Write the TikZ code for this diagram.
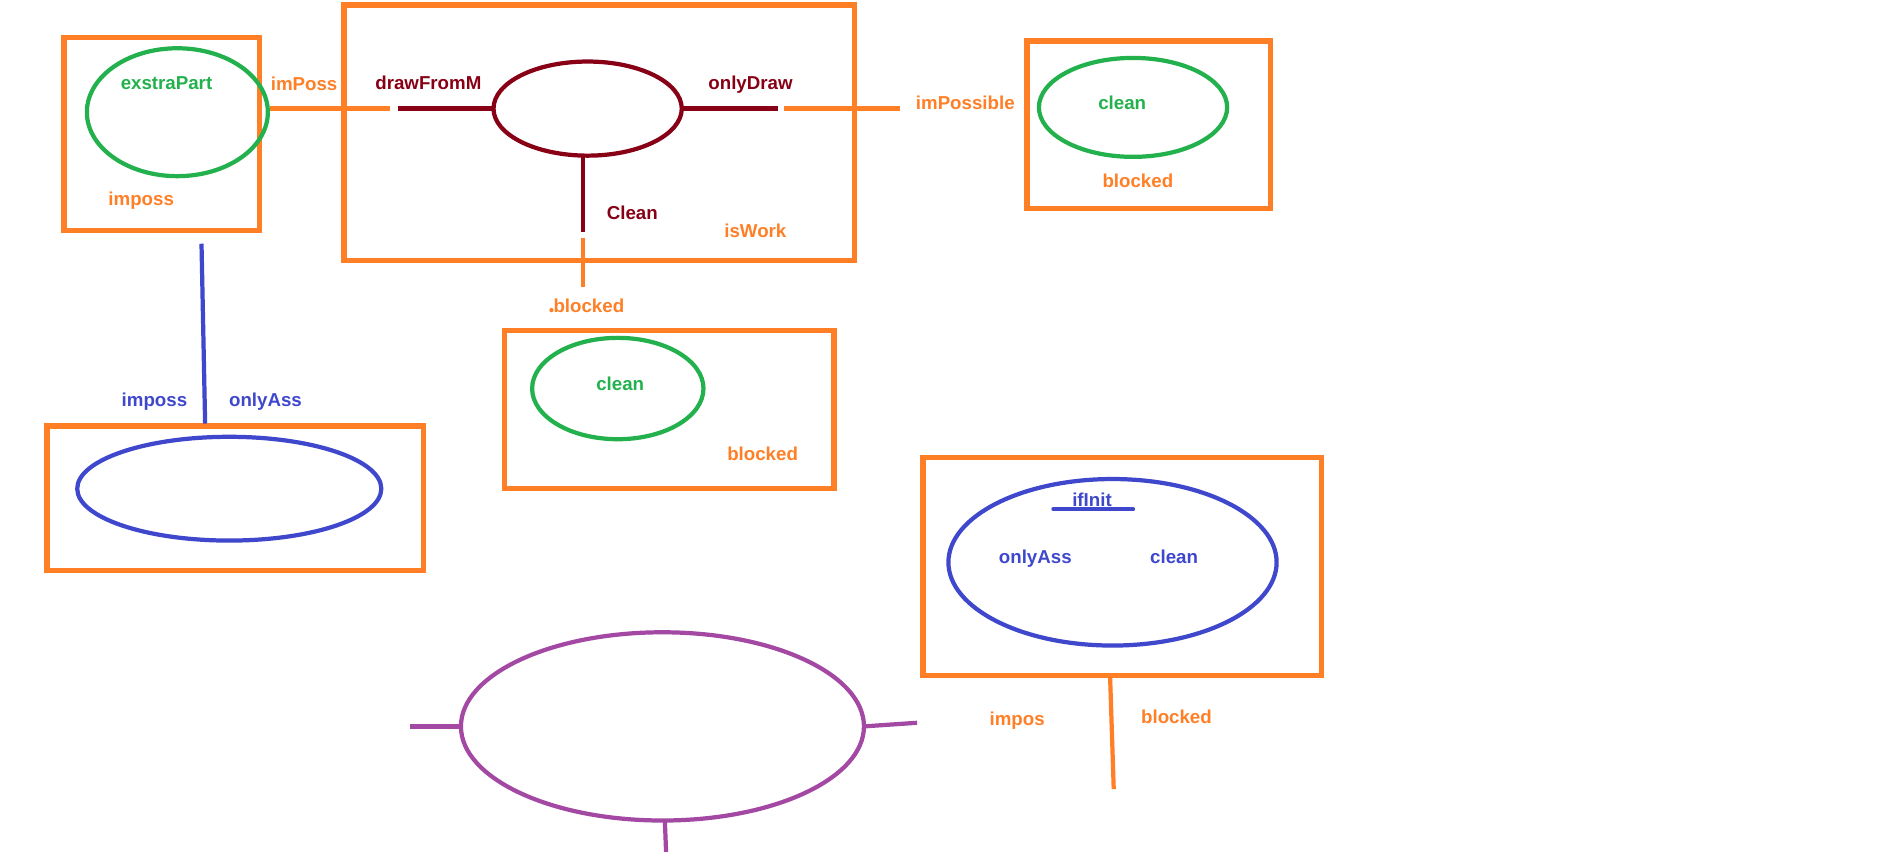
\documentclass[tikz,border=0pt]{standalone}
\usepackage{fontspec}
\setmainfont{Liberation Sans}
\usetikzlibrary{shapes.geometric}
\definecolor{porange}{HTML}{FF7F27}
\definecolor{pgreen}{HTML}{22B14C}
\definecolor{pred}{HTML}{880015}
\definecolor{pblue}{HTML}{3F48CC}
\definecolor{ppurple}{HTML}{A349A4}
\begin{document}
\begin{tikzpicture}[x=1pt,y=-1pt,
  box/.style={draw=porange,line width=4.5pt,rectangle,inner sep=0pt,outer sep=0pt},
  oval/.style={ellipse,line width=3.5pt,inner sep=0pt,outer sep=0pt},
  wire/.style={line width=3.5pt},
  lbl/.style={font=\bfseries\fontsize{15.5}{18}\selectfont,inner sep=0pt,anchor=base}]
\useasboundingbox[fill=white] (0,0) rectangle (1568,713.6);

% boxes
\node[box,minimum width=162pt,minimum height=160pt] (boxA) at (134,111) {};
\node[box,minimum width=423pt,minimum height=212pt] (boxB) at (496.5,110) {};
\node[box,minimum width=202pt,minimum height=139pt] (boxC) at (952,103.5) {};
\node[box,minimum width=312pt,minimum height=120pt] (boxD) at (195,413) {};
\node[box,minimum width=273pt,minimum height=131pt] (boxE) at (554.5,339.5) {};
\node[box,minimum width=330pt,minimum height=181pt] (boxF) at (930,469.5) {};

% ellipses
\node[oval,draw=pgreen,minimum width=150pt,minimum height=106pt] (ellA) at (147,93) {};
\node[oval,draw=pred,minimum width=156pt,minimum height=78pt] (ellB) at (487,90) {};
\node[oval,draw=pgreen,minimum width=156pt,minimum height=82pt] (ellC) at (939,89) {};
\node[oval,draw=pblue,minimum width=252pt,minimum height=86pt] (ellD) at (190,405) {};
\node[oval,draw=pgreen,minimum width=142pt,minimum height=84pt] (ellE) at (512,322) {};
\node[oval,draw=pblue,minimum width=272pt,minimum height=138pt] (ellF) at (922,466) {};
\node[oval,draw=ppurple,minimum width=334pt,minimum height=156pt] (ellG) at (549,602) {};

% free ends
\coordinate (o1a) at (224,90);
\coordinate (o1b) at (323,90);
\coordinate (r1a) at (330,90);
\coordinate (r2b) at (645,90);
\coordinate (o2a) at (650,90);
\coordinate (o2b) at (746,90);
\coordinate (r3b) at (483,192);
\coordinate (r3a) at (483,129);
\coordinate (o3a) at (483,197);
\coordinate (o3b) at (483,238);
\coordinate (b1a) at (167,202);
\coordinate (b1b) at (170,351);
\coordinate (o4a) at (920,561);
\coordinate (o4b) at (923,654);
\coordinate (p1a) at (340,602);
\coordinate (p2b) at (760,599);
\coordinate (p3a) at (551,680);
\coordinate (p3b) at (552,706);
\coordinate (u1a) at (873,422);
\coordinate (u1b) at (939,422);
\coordinate (dot) at (457,257);

% connectors
\draw[wire,porange] (o1a) -- (o1b);
\draw[wire,pred] (r1a) -- (ellB.west);
\draw[wire,pred] (ellB.east) -- (r2b);
\draw[wire,porange] (o2a) -- (o2b);
\draw[wire,pred] (r3a) -- (r3b);
\draw[wire,porange] (o3a) -- (o3b);
\draw[wire,pblue] (b1a) -- (b1b);
\draw[wire,porange] (o4a) -- (o4b);
\draw[wire,ppurple] (p1a) -- (ellG.west);
\draw[wire,ppurple] (ellG.east) -- (p2b);
\draw[wire,ppurple] (p3a) -- (p3b);
\draw[wire,pblue,line cap=round] (u1a) -- (u1b);
\fill[porange] (dot) circle (1.8pt);

% labels
\node[lbl,pgreen] (t1) at (138,74) {exstraPart};
\node[lbl,porange] (t2) at (117,170) {imposs};
\node[lbl,porange] (t3) at (252,75) {imPoss};
\node[lbl,pred] (t4) at (355,74) {drawFromM};
\node[lbl,pred] (t5) at (622,74) {onlyDraw};
\node[lbl,porange] (t6) at (800,91) {imPossible};
\node[lbl,pred] (t7) at (524,182) {Clean};
\node[lbl,porange] (t8) at (626,197) {isWork};
\node[lbl,porange] (t9) at (488,259) {blocked};
\node[lbl,pgreen] (t10) at (930,91) {clean};
\node[lbl,porange] (t11) at (943,155) {blocked};
\node[lbl,pblue] (t12) at (128,337) {imposs};
\node[lbl,pblue] (t13) at (220,337) {onlyAss};
\node[lbl,pgreen] (t14) at (514,324) {clean};
\node[lbl,porange] (t15) at (632,382) {blocked};
\node[lbl,pblue] (t16) at (905,420) {ifInit};
\node[lbl,pblue] (t17) at (858,467) {onlyAss};
\node[lbl,pblue] (t18) at (973,467) {clean};
\node[lbl,porange] (t19) at (843,601) {impos};
\node[lbl,porange] (t20) at (975,600) {blocked};
\end{tikzpicture}
\end{document}
